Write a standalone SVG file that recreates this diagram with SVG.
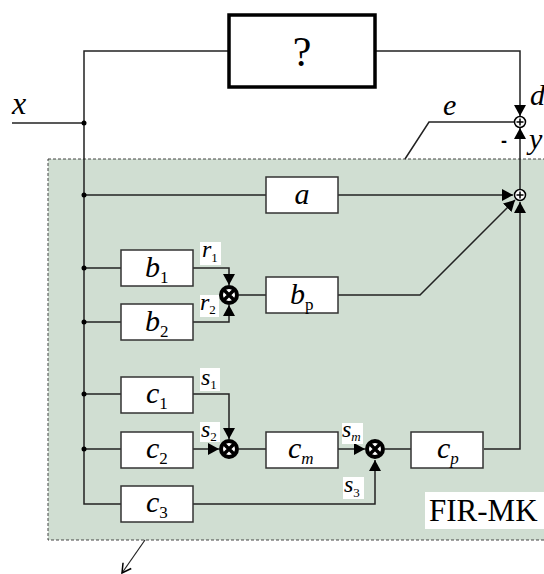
<svg xmlns="http://www.w3.org/2000/svg" width="544" height="574" viewBox="0 0 544 574">
<defs>
<marker id="ah" markerUnits="userSpaceOnUse" markerWidth="11" markerHeight="12" refX="11" refY="6" orient="auto" viewBox="0 0 11 12">
<path d="M0,0 L11,6 L0,12 z" fill="#000"/>
</marker>
<marker id="av" markerUnits="userSpaceOnUse" markerWidth="12" markerHeight="12" refX="10" refY="6" orient="auto" viewBox="0 0 12 12">
<path d="M1,1 L10,6 L1,11" fill="none" stroke="#000" stroke-width="1.5"/>
</marker>
</defs>
<style>
.ln{fill:none;stroke:#222;stroke-width:1.5}
.ar{fill:none;stroke:#222;stroke-width:1.5;marker-end:url(#ah)}
.box{fill:#fff;stroke:#333;stroke-width:1.5}
.t{font-family:"Liberation Serif",serif;font-style:italic;font-size:30px;fill:#000}
.sub{font-family:"Liberation Serif",serif;font-style:normal;font-size:17px}
.subi{font-family:"Liberation Serif",serif;font-style:italic;font-size:17px}
.st{font-family:"Liberation Serif",serif;font-style:italic;font-size:24px;fill:#000}
.ss{font-family:"Liberation Serif",serif;font-style:normal;font-size:13px}
.ssi{font-family:"Liberation Serif",serif;font-style:italic;font-size:13px}
.lbg{fill:#fff;stroke:none}
.dot{fill:#000}
.sum{fill:#fff;stroke:#000;stroke-width:1.5}
.mul{fill:#fff;stroke:#000;stroke-width:4}
.mx{stroke:#000;stroke-width:3.5}
</style>
<rect id="fir-mk" x="48" y="159" width="500" height="381" fill="#d0ded2" stroke="#444" stroke-width="1" stroke-dasharray="3 2"/>
<g id="connectors">
<path class="ln" d="M12,123 H84"/>
<path class="ln" d="M229,51 H84 V504 H121"/>
<path class="ar" d="M375,51 H520 V116"/>
<path class="ln" d="M514,122 H429 L405,159"/>
<path class="ar" d="M520,189 V128"/>
<path class="ln" d="M84,195 H266"/>
<path class="ar" d="M338,195 H513"/>
<path class="ln" d="M84,268 H121"/>
<path class="ar" d="M193,268 H229 V285"/>
<path class="ln" d="M84,322 H121"/>
<path class="ar" d="M193,322 H229 V305"/>
<path class="ln" d="M239,295 H266"/>
<path class="ar" d="M338,295 H420 L515,200"/>
<path class="ln" d="M84,394 H121"/>
<path class="ar" d="M193,394 H229 V439"/>
<path class="ln" d="M84,449 H121"/>
<path class="ar" d="M193,449 H219"/>
<path class="ln" d="M239,449 H266"/>
<path class="ar" d="M338,449 H365"/>
<path class="ar" d="M193,504 H375 V460"/>
<path class="ln" d="M385,449 H411"/>
<path class="ar" d="M484,449 H520 V202"/>
<path d="M145,540 L122,573" fill="none" stroke="#222" stroke-width="1.2" marker-end="url(#av)"/>
</g>
<g id="dots">
<circle class="dot" cx="84" cy="123" r="2.5"/>
<circle class="dot" cx="84" cy="195" r="2.5"/>
<circle class="dot" cx="84" cy="268" r="2.5"/>
<circle class="dot" cx="84" cy="322" r="2.5"/>
<circle class="dot" cx="84" cy="394" r="2.5"/>
<circle class="dot" cx="84" cy="449" r="2.5"/>
</g>
<g id="unknown">
<rect x="229" y="15" width="146" height="72" fill="#fff" stroke="#000" stroke-width="3.5"/>
<text x="302" y="66" text-anchor="middle" style="font-family:'Liberation Serif',serif;font-size:42px">?</text>
</g>
<g id="sum-e">
<circle class="sum" cx="520" cy="122" r="5.5"/>
<path d="M516.5,122 H523.5 M520,118.5 V125.5" stroke="#000" stroke-width="1.5"/>
</g>
<g id="sum-y">
<circle class="sum" cx="520" cy="195" r="5.5"/>
<path d="M516.5,195 H523.5 M520,191.5 V198.5" stroke="#000" stroke-width="1.5"/>
</g>
<g id="a">
<rect class="box" x="266" y="177" width="72" height="36"/>
<text class="t" x="302" y="204" text-anchor="middle">a</text>
</g>
<g id="b1">
<rect class="box" x="121" y="250" width="72" height="36"/>
<text class="t" x="145" y="277">b<tspan class="sub" dy="6">1</tspan></text>
</g>
<g id="b2">
<rect class="box" x="121" y="304" width="72" height="36"/>
<text class="t" x="145" y="331">b<tspan class="sub" dy="6">2</tspan></text>
</g>
<g id="mul-b">
<circle class="mul" cx="229" cy="295" r="8"/>
<path class="mx" d="M223.5,289.5 L234.5,300.5 M234.5,289.5 L223.5,300.5"/>
</g>
<g id="bp">
<rect class="box" x="266" y="277" width="72" height="36"/>
<text class="t" x="290" y="304">b<tspan class="sub" dy="6">p</tspan></text>
</g>
<g id="c1">
<rect class="box" x="121" y="377" width="72" height="36"/>
<text class="t" x="146" y="403">c<tspan class="sub" dy="6">1</tspan></text>
</g>
<g id="c2">
<rect class="box" x="121" y="432" width="72" height="36"/>
<text class="t" x="146" y="458">c<tspan class="sub" dy="6">2</tspan></text>
</g>
<g id="c3">
<rect class="box" x="121" y="486" width="72" height="36"/>
<text class="t" x="146" y="512">c<tspan class="sub" dy="6">3</tspan></text>
</g>
<g id="mul-c">
<circle class="mul" cx="229" cy="449" r="8"/>
<path class="mx" d="M223.5,443.5 L234.5,454.5 M234.5,443.5 L223.5,454.5"/>
</g>
<g id="cm">
<rect class="box" x="266" y="432" width="72" height="36"/>
<text class="t" x="288" y="458">c<tspan class="subi" dy="6">m</tspan></text>
</g>
<g id="mul-m">
<circle class="mul" cx="375" cy="449" r="8"/>
<path class="mx" d="M369.5,443.5 L380.5,454.5 M380.5,443.5 L369.5,454.5"/>
</g>
<g id="cp">
<rect class="box" x="411" y="432" width="72" height="36"/>
<text class="t" x="437" y="458">c<tspan class="subi" dy="6">p</tspan></text>
</g>
<g id="labels">
<rect class="lbg" x="200" y="242" width="21" height="23"/>
<text class="st" x="202" y="257">r<tspan class="ss" dy="5">1</tspan></text>
<rect class="lbg" x="200" y="295" width="19" height="22"/>
<text class="st" x="200" y="310">r<tspan class="ss" dy="4">2</tspan></text>
<rect class="lbg" x="200" y="368" width="20" height="23"/>
<text class="st" x="201" y="385">s<tspan class="ss" dy="4">1</tspan></text>
<rect class="lbg" x="200" y="422" width="20" height="20"/>
<text class="st" x="201" y="437">s<tspan class="ss" dy="4">2</tspan></text>
<rect class="lbg" x="342" y="423" width="21" height="21"/>
<text class="st" x="342" y="437">s<tspan class="ssi" dy="4">m</tspan></text>
<rect class="lbg" x="343" y="477" width="21" height="22"/>
<text class="st" x="344" y="492">s<tspan class="ss" dy="5">3</tspan></text>
<text class="t" x="12" y="114" style="font-size:32px">x</text>
<text class="t" x="443" y="115">e</text>
<text class="t" x="530" y="105">d</text>
<text class="t" x="529" y="149">y</text>
<text x="501" y="147" style="font-family:'Liberation Sans',sans-serif;font-weight:bold;font-size:18px">-</text>
<rect class="lbg" x="425" y="492" width="119" height="37"/>
<text x="429" y="521" style="font-family:'Liberation Serif',serif;font-size:31px">FIR-MK</text>
</g>
</svg>
